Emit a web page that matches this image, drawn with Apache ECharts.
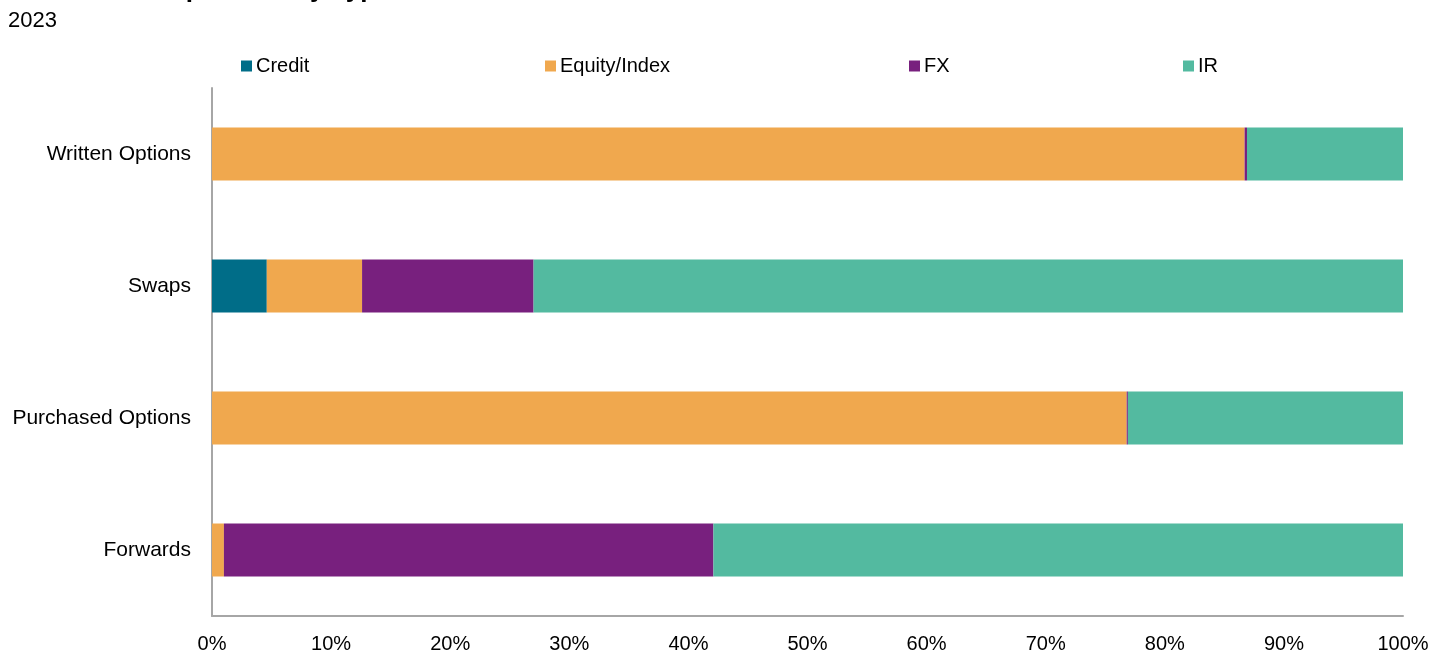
<!DOCTYPE html>
<html>
<head>
<meta charset="utf-8">
<script src="https://cdn.jsdelivr.net/npm/echarts@6/dist/echarts.min.js"></script>
<style>
  html, body { margin: 0; padding: 0; background: #fff; }
  #chart { width: 1430px; height: 653px; }
</style>
</head>
<body>
<div id="chart"></div>
<script>
// Share of notional by product type, 2023 (percent of each row)
const categories = ['Written Options', 'Swaps', 'Purchased Options', 'Forwards'];
const credit = [0, 4.6, 0, 0];
const equityIndex = [86.7, 8.0, 76.8, 1.0];
const fx = [0.2, 14.4, 0.1, 41.1];
const ir = [13.1, 73.0, 23.1, 57.9];
const xTicks = { min: 0, max: 100, step: 10 };

const FONT = '"Liberation Sans", Arial, sans-serif';
const seriesDefs = [
  { name: 'Credit', data: credit, color: '#006D88', legendLeft: 241 },
  { name: 'Equity/Index', data: equityIndex, color: '#F0A84E', legendLeft: 545 },
  { name: 'FX', data: fx, color: '#78207E', legendLeft: 909 },
  { name: 'IR', data: ir, color: '#53BAA0', legendLeft: 1183 }
];

const chart = echarts.init(document.getElementById('chart'), null, { renderer: 'canvas' });

chart.setOption({
  backgroundColor: '#ffffff',
  animation: false,
  title: [
    {
      text: 'Derivatives Exposures by Type',
      left: 8, top: -23, padding: 0,
      textStyle: { fontFamily: FONT, fontSize: 26, fontWeight: 'bold', color: '#000', lineHeight: 26 }
    },
    {
      text: '2023',
      left: 8, top: 10, padding: 0,
      textStyle: { fontFamily: FONT, fontSize: 22, fontWeight: 'normal', color: '#000', lineHeight: 22 }
    }
  ],
  legend: seriesDefs.map(s => ({
    data: [s.name],
    left: s.legendLeft,
    top: 56,
    icon: 'rect',
    itemWidth: 11,
    itemHeight: 11,
    itemGap: 0,
    padding: 0,
    selectedMode: false,
    textStyle: { fontFamily: FONT, fontSize: 20, color: '#000', padding: [0, 0, 0, -1] }
  })),
  grid: { left: 212, right: 27, top: 88, bottom: 37, containLabel: false, outerBoundsMode: 'none' },
  xAxis: {
    type: 'value',
    min: xTicks.min,
    max: xTicks.max,
    interval: xTicks.step,
    axisLine: { show: true, lineStyle: { color: '#a6a6a6', width: 2 } },
    axisTick: { show: false },
    splitLine: { show: false },
    axisLabel: {
      formatter: '{value}%',
      fontFamily: FONT, fontSize: 20, color: '#000', margin: 18
    }
  },
  yAxis: {
    type: 'category',
    data: categories,
    inverse: true,
    axisLine: { show: true, lineStyle: { color: '#a6a6a6', width: 2 } },
    axisTick: { show: false },
    axisLabel: { fontFamily: FONT, fontSize: 21, color: '#000', margin: 21, padding: [5, 0, 0, 0] }
  },
  series: seriesDefs.map(s => ({
    name: s.name,
    type: 'bar',
    stack: 'total',
    data: s.data,
    barWidth: 53,
    itemStyle: { color: s.color },
    emphasis: { disabled: true }
  }))
});
</script>
</body>
</html>
